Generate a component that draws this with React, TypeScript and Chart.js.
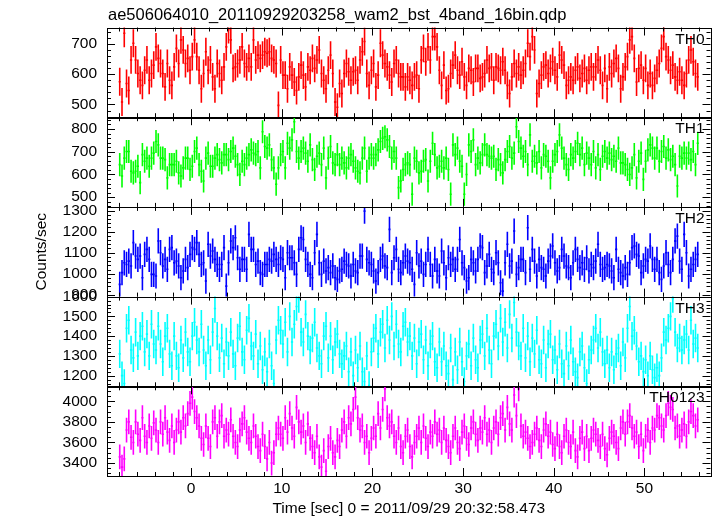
import React, { useEffect, useRef } from 'react';
import { Chart, registerables } from 'chart.js';

Chart.register(...registerables);

// ---------- data ----------
const T_START = -8; // start of first bin (sec)
const BIN = 0.25; // bin width (sec)

const TH0 = [
  575, 508, 735, 569, 546, 647, 702, 647, 602, 580,
  563, 613, 647, 580, 602, 630, 690, 652, 635, 602,
  558, 635, 580, 563, 624, 685, 635, 713, 680, 635,
  652, 613, 658, 713, 658, 613, 552, 602, 674, 613,
  647, 591, 552, 635, 602, 580, 624, 690, 747, 713,
  619, 624, 635, 647, 690, 635, 624, 652, 624, 713,
  647, 663, 652, 663, 674, 669, 674, 652, 647, 635,
  497, 647, 597, 597, 552, 624, 597, 574, 546, 591,
  630, 597, 558, 624, 613, 652, 619, 647, 680, 602,
  580, 552, 613, 663, 602, 508, 491, 569, 536, 602,
  635, 608, 580, 608, 613, 580, 647, 674, 708, 602,
  563, 613, 635, 558, 597, 702, 663, 635, 624, 597,
  574, 635, 647, 602, 591, 591, 558, 591,
  580, 563, 591, 597, 552, 647, 685, 641, 690, 647,
  724, 724, 690, 613, 563, 630, 546, 552, 602, 630,
  663, 613, 597, 641, 591, 563, 619, 613, 574, 619,
  619, 586, 591, 602, 647, 619, 624, 580, 624,
  619, 613, 641, 613, 563, 536, 591, 635, 602, 624,
  597, 613, 635, 702, 658, 724, 680, 536, 569, 597,
  624, 630, 602, 619, 641, 613, 591, 663, 647, 630,
  563, 580, 591, 580, 613, 624, 586, 602, 619, 580,
  613, 624, 591, 624, 647, 613, 563, 619, 552,
  624, 602, 635, 652, 619, 552, 591, 624, 658, 713,
  724, 652, 574, 619, 630, 580, 619, 563, 602, 563,
  586, 613, 635, 685, 724, 658, 647, 613, 630, 591,
  580, 608, 580, 563, 602, 647, 680, 641, 602, 591,
];

const TH1 = [
  643, 593, 672, 701, 701, 614, 607, 614, 636, 564,
  687, 658, 672, 636, 672, 694, 745, 730, 672, 672,
  665, 585, 643, 643, 643, 658, 607, 593, 629, 672,
  672, 622, 636, 701, 716, 643, 614, 571, 672, 694,
  636, 636, 672, 687, 665, 651, 687, 687, 665, 701,
  716, 680, 643, 600, 658, 643, 672, 687, 708,
  694, 687, 701, 629, 788, 723, 716, 730, 665, 629,
  557, 629, 687, 701, 629, 737, 716, 752, 832, 701,
  672, 701, 716, 694, 658, 730, 665, 622, 680, 694,
  643, 716, 585, 672, 723, 651, 643, 687, 643, 672,
  651, 629, 672, 687, 658, 629, 614, 607, 672, 716,
  614, 672, 687, 672, 687, 708, 745, 759, 766,
  752, 723, 672, 701, 672, 542, 571, 622, 643, 651,
  643, 513, 672, 658, 607, 614, 658, 665, 571, 658,
  737, 687, 629, 636, 658, 629, 672, 622, 513, 730,
  687, 716, 658, 636, 513, 600, 730, 701, 752,
  643, 672, 651, 687, 730, 687, 680, 672, 680, 622,
  665, 643, 607, 665, 701, 723, 672, 694, 810, 745,
  716, 680, 701, 643, 774, 658, 680, 651, 701, 629,
  687, 680, 658, 585, 658, 687, 701, 774, 716, 672,
  643, 622, 687, 672, 701, 737, 687, 716, 643, 694,
  672, 643, 701, 629, 687, 622, 680, 701, 672, 694,
  665, 680, 658, 716, 651, 651, 643, 622, 600,
  629, 687, 585, 658, 694, 578, 658, 708, 730, 716,
  672, 716, 658, 701, 723, 672, 708, 665, 680, 643,
  549, 680, 672, 694, 672, 694, 665, 701, 643, 737,
];

const TH2 = [
  949, 1005, 1052, 1044, 1060, 1037, 1148, 1084, 1068, 1084,
  981, 1092, 1116, 1068, 997, 997, 989, 1156, 1100, 1037,
  1068, 1021, 1116, 1124, 1052, 1060, 1037, 981, 1013, 1068,
  1029, 1092, 1124, 1116, 1148, 1092, 1044, 1052, 965,
  1140, 1084, 1108, 1068, 1044, 1021, 1044, 1124, 941, 1052,
  1156, 1124, 1171, 1076, 1021, 1068, 1068, 1021, 1187, 1116,
  1116, 1044, 1060, 1005, 997, 1044, 1044, 1068, 1060, 1092,
  1068, 1044, 1076, 1068, 981, 1100, 1076, 1076, 1052, 997,
  1116, 1171, 1163, 1068, 1044, 997, 981, 1100, 1187, 1052,
  997, 1060, 1013, 1029, 1005, 1037, 981, 973, 1013,
  1021, 1060, 1044, 1037, 989, 1044, 1013, 1005, 1084, 1084,
  1298, 1068, 1052, 1044, 1013, 965, 1005, 1068, 1084, 1037,
  1029, 1211, 1005, 1076, 1116, 1021, 1005, 1052, 1084, 1060,
  1052, 1021, 949, 1100, 1037, 1060, 997, 1044, 1116, 1044,
  989, 1068, 1013, 989, 1108, 1052, 981, 1076, 1044, 1068,
  1021, 1068, 1163, 1052, 1029, 965, 981, 1068, 1052,
  1013, 1068, 1132, 1124, 1005, 1037, 1092, 1021, 1005, 1100,
  1052, 957, 917, 1052, 1140, 1037, 1060, 1203, 997, 1029,
  1068, 1068, 1005, 1219, 1021, 1116, 1060, 989, 1068, 1029,
  1021, 989, 1060, 1084, 1132, 1052, 1013, 1029, 1116, 1084,
  1037, 1029, 981, 1052, 1116, 1068, 1029, 1052, 1021, 1076,
  1013, 1044, 1029, 1060, 1140, 1044, 1021, 1029, 1044,
  1037, 1013, 981, 1116, 1021, 1005, 989, 1029, 997, 1052,
  1124, 1132, 1092, 1084, 1005, 1037, 1068, 1060, 1132, 1068,
  1021, 1068, 1005, 973, 1037, 1100, 1044, 1005, 1068, 1156,
  1179, 1060, 1021, 1187, 1100, 989, 1021, 1044, 1068, 1092,
];

const TH3 = [
  1310, 1200, 1160, 1440, 1480, 1330, 1290, 1420, 1300, 1400, 1450, 1320, 1410, 1300, 1460, 1360,
  1330, 1450, 1360, 1270, 1400, 1440, 1310, 1250, 1400, 1300, 1240, 1380, 1290, 1420, 1320, 1270,
  1400, 1470, 1380, 1320, 1460, 1330, 1250, 1380, 1280, 1420, 1540, 1400, 1290, 1390, 1260, 1370,
  1300, 1420, 1310, 1250, 1390, 1450, 1320, 1280, 1430, 1490, 1350, 1300, 1410, 1260, 1350, 1230,
  1320, 1220, 1360, 1250, 1160, 1380, 1480, 1430, 1360, 1470, 1320, 1500, 1370, 1460, 1550, 1590,
  1420, 1370, 1510, 1400, 1330, 1390, 1470, 1340, 1300, 1260, 1400, 1450, 1290, 1400, 1280, 1370,
  1410, 1310, 1260, 1300, 1350, 1220, 1320, 1200, 1330, 1240, 1350, 1220, 1170, 1300, 1150, 1320,
  1390, 1440, 1310, 1420, 1460, 1340, 1480, 1380, 1500, 1350, 1460, 1360, 1320, 1450, 1470, 1370,
  1400, 1300, 1390, 1260, 1370, 1410, 1280, 1380, 1250, 1360, 1400, 1270, 1240, 1370, 1270, 1350,
  1250, 1210, 1340, 1180, 1320, 1230, 1370, 1270, 1170, 1300, 1360, 1250, 1390, 1280, 1240, 1380,
  1410, 1300, 1440, 1330, 1260, 1400, 1460, 1350, 1490, 1370, 1470, 1340, 1510, 1390, 1570, 1420,
  1350, 1300, 1440, 1290, 1400, 1270, 1390, 1310, 1430, 1280, 1260, 1380, 1240, 1360, 1410, 1280,
  1330, 1230, 1360, 1260, 1210, 1350, 1250, 1380, 1270, 1220, 1190, 1320, 1350, 1240, 1160, 1280,
  1330, 1380, 1440, 1340, 1420, 1320, 1260, 1330, 1240, 1320, 1230, 1310, 1340, 1250, 1370, 1290,
  1440, 1550, 1400, 1430, 1350, 1270, 1300, 1220, 1280, 1200, 1300, 1230, 1190, 1240, 1200, 1290,
  1420, 1380, 1440, 1500, 1590, 1420, 1340, 1390, 1330, 1380, 1410, 1330, 1480, 1360, 1390, 1340,
];

const TH0123 = [
  3460, 3360, 3440, 3720, 3800, 3650, 3600, 3800, 3680, 3620, 3840, 3660, 3600, 3760, 3640, 3790,
  3720, 3600, 3800, 3680, 3840, 3700, 3620, 3760, 3600, 3720, 3800, 3700, 3840, 3760, 3880, 3980,
  4040, 3900, 3840, 3760, 3640, 3580, 3760, 3640, 3560, 3800, 3840, 3660, 3800, 3860, 3660, 3720,
  3680, 3820, 3660, 3600, 3560, 3720, 3780, 3840, 3700, 3640, 3600, 3760, 3660, 3560, 3520, 3680,
  3560, 3440, 3600, 3400, 3500, 3680, 3740, 3680, 3640, 3840, 3700, 3880, 3740, 3660, 3940, 3800,
  3700, 3760, 3600, 3780, 3640, 3560, 3500, 3660, 3460, 3360, 3520, 3320, 3560, 3640, 3500, 3460,
  3620, 3560, 3720, 3800, 3660, 3840, 3780, 3920, 4040, 3840, 3720, 3760, 3600, 3660, 3500, 3640,
  3740, 3660, 3880, 3740, 3920, 4120, 3840, 3760, 3800, 3660, 3600, 3740, 3560, 3500, 3660, 3720,
  3560, 3460, 3600, 3660, 3740, 3600, 3760, 3640, 3560, 3700, 3660, 3800, 3680, 3720, 3600, 3740,
  3620, 3560, 3500, 3660, 3740, 3600, 3540, 3700, 3760, 3640, 3580, 3740, 3800, 3680, 3620, 3740,
  3700, 3840, 3680, 3720, 3600, 3740, 3800, 3680, 3840, 3880, 3720, 3940, 3780, 3720, 4060, 3860,
  4120, 3760, 3660, 3700, 3640, 3560, 3600, 3680, 3740, 3620, 3560, 3720, 3780, 3660, 3700, 3580,
  3540, 3680, 3560, 3500, 3660, 3720, 3600, 3560, 3700, 3520, 3460, 3640, 3700, 3540, 3660, 3520,
  3640, 3720, 3680, 3620, 3560, 3680, 3540, 3480, 3640, 3700, 3660, 3600, 3540, 3740, 3800, 3680,
  3800, 3860, 3740, 3660, 3700, 3560, 3680, 3520, 3660, 3720, 3600, 3740, 3720, 3860, 3840, 3760,
  3720, 3860, 3980, 3940, 3920, 3740, 3760, 3660, 3720, 3780, 3660, 3800, 3900, 3860, 3760, 3820,
];

// typical 1-sigma error per panel (counts/sec)
const ERR_TH0 = 46;
const ERR_TH1 = 51;
const ERR_TH2 = 60;
const ERR_TH3 = 72;
const ERR_TH0123 = 120;

const X_TICKS = [0, 10, 20, 30, 40, 50];
const TICKS_TH0 = [500, 600, 700];
const TICKS_TH1 = [500, 600, 700, 800];
const TICKS_TH2 = [900, 1000, 1100, 1200, 1300];
const TICKS_TH3 = [1200, 1300, 1400, 1500, 1600];
const TICKS_TH0123 = [3400, 3600, 3800, 4000];

const TITLE = 'ae506064010_20110929203258_wam2_bst_4band_16bin.qdp';
const X_TITLE = 'Time [sec] 0 = 2011/09/29 20:32:58.473';
const Y_TITLE = 'Counts/sec';

// ---------- panel configuration ----------
const PANELS = [
  { id: 'yTH0', name: 'TH0', color: '#ff0000', data: TH0, err: ERR_TH0, min: 458, max: 754, ticks: TICKS_TH0, minor: 20 },
  { id: 'yTH1', name: 'TH1', color: '#00ff00', data: TH1, err: ERR_TH1, min: 457, max: 852, ticks: TICKS_TH1, minor: 20 },
  { id: 'yTH2', name: 'TH2', color: '#0000ff', data: TH2, err: ERR_TH2, min: 891, max: 1318, ticks: TICKS_TH2, minor: 20 },
  { id: 'yTH3', name: 'TH3', color: '#00ffff', data: TH3, err: ERR_TH3, min: 1146, max: 1600, ticks: TICKS_TH3, minor: 20 },
  { id: 'yTH0123', name: 'TH0123', color: '#ff00ff', data: TH0123, err: ERR_TH0123, min: 3274, max: 4145, ticks: TICKS_TH0123, minor: 50 },
];

const X_MIN = -9.28;
const X_MAX = 57.28;
const FONT = 'Liberation Sans, Arial, Helvetica, sans-serif';
const FS = 15.5;

const qdpPlugin = {
  id: 'qdp',
  afterDraw(chart: any) {
    const ctx: CanvasRenderingContext2D = chart.ctx;
    const xs = chart.scales.x;
    const left = xs.left;
    const right = xs.right;
    PANELS.forEach((p) => {
      const ys = chart.scales[p.id];
      const top = ys.top;
      const bottom = ys.bottom;
      // data with error bars
      ctx.save();
      ctx.beginPath();
      ctx.rect(left, top, right - left, bottom - top);
      ctx.clip();
      ctx.strokeStyle = p.color;
      ctx.lineWidth = 1.6;
      ctx.beginPath();
      p.data.forEach((v, i) => {
        const tc = T_START + BIN * (i + 0.5);
        const x0 = xs.getPixelForValue(tc - BIN / 2);
        const x1 = xs.getPixelForValue(tc + BIN / 2);
        const xc = xs.getPixelForValue(tc);
        const y = ys.getPixelForValue(v);
        ctx.moveTo(x0, y);
        ctx.lineTo(x1, y);
        ctx.moveTo(xc, ys.getPixelForValue(v - p.err));
        ctx.lineTo(xc, ys.getPixelForValue(v + p.err));
      });
      ctx.stroke();
      ctx.restore();

      // frame
      ctx.save();
      ctx.strokeStyle = '#000';
      ctx.lineWidth = 1;
      ctx.strokeRect(Math.round(left) + 0.5, Math.round(top) + 0.5, Math.round(right - left), Math.round(bottom - top));
      // x ticks (top & bottom, inward)
      ctx.beginPath();
      for (let t = -8; t <= 56; t += 2) {
        const x = Math.round(xs.getPixelForValue(t)) + 0.5;
        const len = t % 10 === 0 ? 8 : 4;
        ctx.moveTo(x, bottom);
        ctx.lineTo(x, bottom - len);
        ctx.moveTo(x, top);
        ctx.lineTo(x, top + len);
      }
      // y ticks (left & right, inward)
      const start = Math.ceil(p.min / p.minor) * p.minor;
      for (let v = start; v <= p.max; v += p.minor) {
        const y = Math.round(ys.getPixelForValue(v)) + 0.5;
        const major = p.ticks.includes(v);
        const len = major ? 8 : 4;
        ctx.moveTo(left, y);
        ctx.lineTo(left + len, y);
        ctx.moveTo(right, y);
        ctx.lineTo(right - len, y);
      }
      ctx.stroke();
      // panel label
      ctx.fillStyle = '#000';
      ctx.font = `${FS}px ${FONT}`;
      ctx.textAlign = 'right';
      ctx.textBaseline = 'alphabetic';
      ctx.fillText(p.name, right - 6, top + 16);
      ctx.restore();
    });

    // texts
    ctx.save();
    ctx.fillStyle = '#000';
    ctx.font = `16.5px ${FONT}`;
    ctx.textAlign = 'left';
    ctx.textBaseline = 'alphabetic';
    ctx.fillText(TITLE, left + 1, 20);
    ctx.font = `${FS}px ${FONT}`;
    ctx.textAlign = 'center';
    ctx.fillText(X_TITLE, (left + right) / 2, 513);
    ctx.translate(46, (chart.chartArea.top + chart.chartArea.bottom) / 2);
    ctx.rotate(-Math.PI / 2);
    ctx.fillText(Y_TITLE, 0, 0);
    ctx.restore();
  },
};

export default function App() {
  const ref = useRef<HTMLCanvasElement | null>(null);
  useEffect(() => {
    if (!ref.current) return;
    const font = { family: FONT, size: FS };
    const plain = (v: any) => String(v);
    const scales: any = {
      x: {
        type: 'linear',
        position: 'bottom',
        min: X_MIN,
        max: X_MAX,
        grid: { display: false, drawTicks: false },
        border: { display: false },
        ticks: { font, color: '#000', padding: 3, autoSkip: false, maxRotation: 0, callback: plain },
        afterBuildTicks: (s: any) => {
          s.ticks = X_TICKS.map((v) => ({ value: v }));
        },
        afterFit: (s: any) => {
          s.height = 40;
        },
      },
    };
    // define bottom panel first; higher weight = higher in the stack
    [...PANELS].reverse().forEach((p, idx) => {
      scales[p.id] = {
        type: 'linear',
        position: 'left',
        stack: 'qdp',
        stackWeight: 1,
        weight: idx + 1,
        min: p.min,
        max: p.max,
        grid: { display: false, drawTicks: false },
        border: { display: false },
        ticks: { font, color: '#000', padding: 10, autoSkip: false, callback: plain },
        afterBuildTicks: (s: any) => {
          s.ticks = p.ticks.map((v) => ({ value: v }));
        },
        afterFit: (s: any) => {
          s.width = 107;
        },
      };
    });
    const chart = new Chart(ref.current, {
      type: 'scatter',
      data: {
        datasets: PANELS.map((p) => ({
          label: p.name,
          yAxisID: p.id,
          data: p.data.map((v, i) => ({ x: T_START + BIN * (i + 0.5), y: v })),
          showLine: false,
          pointRadius: 0,
          borderColor: p.color,
          backgroundColor: p.color,
        })),
      },
      options: {
        responsive: false,
        animation: false,
        devicePixelRatio: 1,
        layout: { padding: { top: 27.5, right: 6.5, left: 0, bottom: 0 } },
        plugins: { legend: { display: false }, title: { display: false }, tooltip: { enabled: false } },
        events: [],
        scales,
      },
      plugins: [qdpPlugin],
    });
    return () => chart.destroy();
  }, []);
  return (
    <div style={{ position: 'fixed', left: 0, top: 0, width: 717, height: 516, background: '#fff' }}>
      <canvas ref={ref} width={717} height={516} style={{ display: 'block' }} />
    </div>
  );
}
